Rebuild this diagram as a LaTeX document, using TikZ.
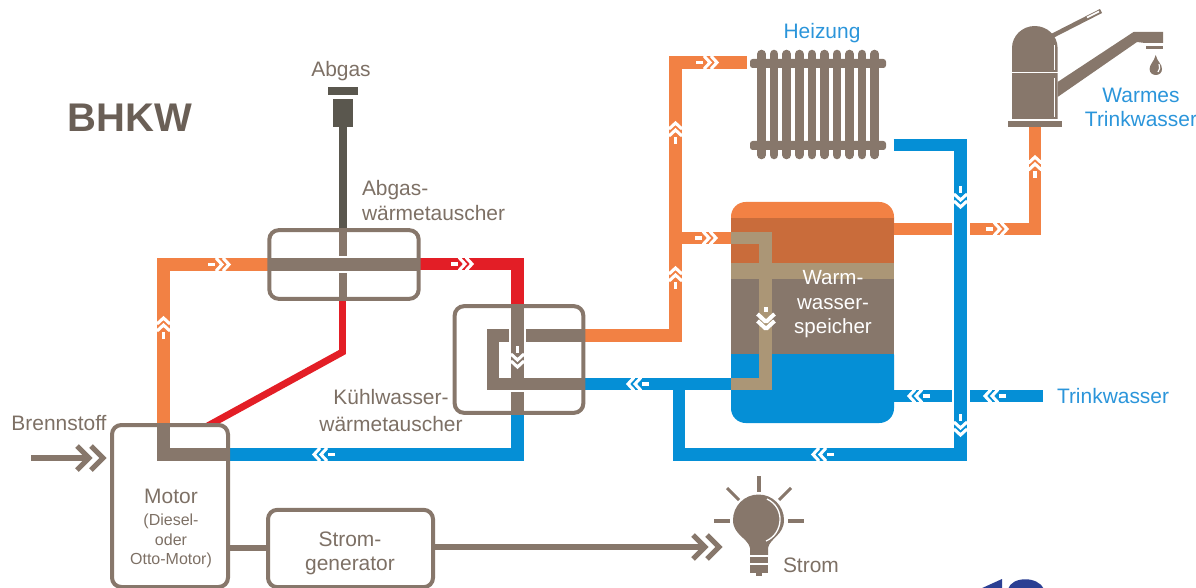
\documentclass[tikz,border=0pt]{standalone}
\usepackage{fontspec}
\setmainfont{Liberation Sans}
\definecolor{gry}{HTML}{87776B}
\definecolor{dgry}{HTML}{5A574E}
\definecolor{txtg}{HTML}{7D7065}
\definecolor{tan}{HTML}{AB9676}
\definecolor{blu}{HTML}{058FD6}
\definecolor{tblu}{HTML}{2B95DA}
\definecolor{org}{HTML}{F28144}
\definecolor{dorg}{HTML}{C96C3B}
\definecolor{rd}{HTML}{E31E26}
\definecolor{logo}{HTML}{2B3F93}
\tikzset{
  x=0.75pt,y=-0.75pt,
  pipe/.style={line width=9.5pt,draw=#1},
  pipe/.default=gry,
  halo/.style={line width=13.5pt,draw=white},
  wtbox/.style={draw=gry,line width=3pt,rounded corners=7pt,inner sep=0pt,outer sep=0pt},
  lbl/.style={text=txtg,inner sep=0pt,outer sep=0pt,anchor=base,font=\fontsize{15.7pt}{18pt}\selectfont,align=center},
  bluelbl/.style={lbl,text=tblu},
  whitelbl/.style={lbl,text=white,font=\fontsize{15.4pt}{18pt}\selectfont},
  smalllbl/.style={lbl,font=\fontsize{12pt}{14pt}\selectfont},
  feed/.style={draw=gry,line width=3.8pt},
  ray/.style={draw=gry,line width=2.3pt},
  pics/flowmark/.style={code={
    \draw[white,line width=2.6pt] (-11,0)--(-4,0);
    \draw[white,line width=2.3pt] (-3,-6.5)--(3,0)--(-3,6.5);
    \draw[white,line width=2.3pt] (4,-6.5)--(10,0)--(4,6.5);
  }},
  pics/bigmark/.style={code={
    \draw[white,line width=3pt] (-11,0)--(-6,0);
    \draw[white,line width=3pt] (-4,-8.5)--(3,-1)--(3,1)--(-4,8.5);
    \draw[white,line width=3pt] (3,-8.5)--(10,-1)--(10,1)--(3,8.5);
  }},
  pics/feedmark/.style={code={
    \draw[feed] (-26,-12)--(-14,0)--(-26,12);
    \draw[feed] (-12,-12)--(0,0)--(-12,12);
  }},
}
\begin{document}
\begin{tikzpicture}
\useasboundingbox (0,0) rectangle (1196,588);
\begin{scope}
\clip (0,0) rectangle (1196,588);
% named points
\coordinate (cRedA) at (517.5,264);
\coordinate (cOrgA) at (163.5,264.5);
\coordinate (cMotorIn) at (163.5,454.5);
\coordinate (cBlueA) at (517.5,454.5);
\coordinate (cOrgB) at (675.5,335.5);
\coordinate (cOrgC) at (675.5,62.5);
\coordinate (cOrgD) at (675.5,238);
\coordinate (cRadIn) at (747,62.5);
\coordinate (cRadOut) at (893.5,145);
\coordinate (cBlueB) at (960.5,145);
\coordinate (cBlueC) at (960.5,454.5);
\coordinate (cBlueD) at (679,454.5);
\coordinate (cBlueE) at (679,384);
\coordinate (cTapA) at (1035,229);
\coordinate (cTapB) at (1035,127);
\coordinate (cTankOut) at (894,229);
\coordinate (cTankIn) at (731,238);
\coordinate (cTankBack) at (731,384);
\coordinate (cCoilA) at (765.5,238);
\coordinate (cCoilB) at (765.5,384);
\coordinate (cCold) at (1043,396);
\coordinate (cColdT) at (894,396);
\coordinate (cFlue) at (342.5,127);
\coordinate (cDiag) at (342.5,352);
\coordinate (cDiagEnd) at (193,434);
% tank
\fill[blu,rounded corners=11pt] (731,340) rectangle (894,423);
\fill[org,rounded corners=11pt] (731,202) rectangle (894,240);
\fill[dorg] (731,218) rectangle (894,263);
\fill[tan] (731,263) rectangle (894,279);
\fill[gry] (731,279) rectangle (894,354);
% coil in tank
\draw[pipe=tan] (cTankIn)--(cCoilA)--(cCoilB)--(cTankBack);
% red
\begin{scope}
\clip (0,0) rectangle (1196,425);
\draw[pipe=rd,line width=5.2pt] (342.5,295)--(cDiag)--(cDiagEnd);
\end{scope}
% orange
\draw[pipe=org] (163.5,428)--(cOrgA)--(272,264.5);
\draw[pipe=rd] (416,264)--(cRedA)--(517.5,310);
\draw[pipe=org] (580,335.5)--(cOrgB)--(cOrgC)--(cRadIn);
\draw[pipe=org] (cOrgD)--(cTankIn);
\draw[pipe=org] (cTankOut)--(cTapA)--(cTapB);
\draw[pipe=blu] (cColdT)--(cCold);
% blue
\draw[pipe=blu] (227,454.5)--(cBlueA)--(517.5,410);
\draw[pipe=blu] (580,384)--(cTankBack);
\draw[halo] (960.5,223)--(960.5,235);
\draw[halo] (960.5,390)--(960.5,402);
\draw[pipe=blu] (cRadOut)--(cBlueB)--(cBlueC)--(cBlueD)--(cBlueE);
% gray in exchanger 1
\draw[dgry,line width=6pt] (cFlue)--(342.5,228);
\draw[gry,line width=6pt] (342.5,228)--(342.5,299);
\draw[white,line width=13pt] (268,264.5)--(420,264.5);
\draw[pipe] (268,264.5)--(420,264.5);
% gray in exchanger 2
\draw[pipe] (584,335.5)--(493,335.5)--(493,384)--(584,384);
\draw[white,line width=12.5pt] (517.5,329)--(517.5,343);
\draw[pipe] (517.5,306)--(517.5,378);
\draw[pipe] (493,384)--(584,384);
\draw[pipe] (517.5,392)--(517.5,413);
% gray in motor
\draw[pipe] (163.5,424)--(cMotorIn)--(229,454.5);
% chimney
\fill[dgry] (333,99) rectangle (353,127);
\fill[dgry] (328,87) rectangle (358,95);
% nodes
\node[wtbox,minimum width=87pt,minimum height=121.5pt] (motor) at (170,506) {};
\node[wtbox,minimum width=123.75pt,minimum height=58pt] (gen) at (350.5,548.5) {};
\node[wtbox,minimum width=112pt,minimum height=51.5pt] (agwt) at (344,264.5) {};
\node[wtbox,minimum width=96.5pt,minimum height=80pt] (kwwt) at (519,359.5) {};
% connectors
\draw[feed] (motor.east |- 0,548)--(gen.west |- 0,548);
\coordinate (cFuel) at (31,458);
\coordinate (cFuelEnd) at (90,458);
\draw[feed] (cFuel)--(cFuelEnd);
\pic at (103,458) {feedmark};
\coordinate (cElec) at (706,547);
\draw[feed] (gen.east |- 0,547)--(cElec);
\pic at (719,547) {feedmark};
% flow marks
\pic[rotate=90] at (163.5,328) {flowmark};
\pic at (219,264.5) {flowmark};
\pic at (462,264) {flowmark};
\pic[rotate=270] at (517.5,357) {flowmark};
\pic[rotate=90] at (675.5,278) {flowmark};
\pic at (706,238) {flowmark};
\pic at (707,62.5) {flowmark};
\pic[rotate=90] at (675.5,133) {flowmark};
\pic[rotate=270] at (960.5,197) {flowmark};
\pic[rotate=270] at (960.5,425) {flowmark};
\pic at (997,229) {flowmark};
\pic[rotate=90] at (1035,167) {flowmark};
\pic[rotate=270] at (766,318) {bigmark};
\pic[rotate=180] at (638,384) {flowmark};
\pic[rotate=180] at (823,454.5) {flowmark};
\pic[rotate=180] at (324,454.5) {flowmark};
\pic[rotate=180] at (919,396) {flowmark};
\pic[rotate=180] at (995,396) {flowmark};
% radiator
\fill[gry,rounded corners=2pt] (750,59) rectangle (886,68);
\fill[gry,rounded corners=2pt] (750,141) rectangle (886,150);
\foreach \i in {0,...,9}{
  \draw[gry,line width=6.4pt,line cap=round] ({761.5+12.58*\i},54)--({761.5+12.58*\i},155);
}
% tap
\fill[gry] (1012,119)--(1012,48) arc[start angle=180,end angle=360,x radius=22.8,y radius=22]--(1057.6,119)--cycle;
\fill[gry] (1008,121) rectangle (1062,127);
\draw[white,line width=0.6pt] (1012,72)--(1057.6,72);
\draw[white,line width=1.1pt] (1054.5,45)--(1054.5,70);
\draw[white,line width=1.1pt] (1054.5,78)--(1054.5,117);
\draw[gry,line width=3.4pt] (1052,36)--(1101,11);
\draw[white,line width=1.2pt] (1087,17.5)--(1099,11.5);
\fill[gry] (1057.6,82)--(1133.5,32)--(1163,32)--(1163,43)--(1145,43)--(1137,42)--(1057.6,97)--cycle;
\fill[gry] (1145.5,46) rectangle (1162.5,49.5);
\fill[gry] (1155.7,55) .. controls (1154,62) and (1149.6,64) .. (1149.6,69) .. controls (1149.6,77) and (1162,77) .. (1162,69) .. controls (1162,64) and (1157.4,62) .. (1155.7,55)--cycle;
\draw[white,line width=0.9pt] (1159,64)..controls (1160,67) and (1160,70) .. (1158,72);
% bulb
\fill[gry] (750,555)--(750,548) .. controls (748,538) and (733,535) .. (733,520) arc[start angle=180,end angle=360,radius=25.5]
  .. controls (784,535) and (770,538) .. (768,548)--(768,555)--cycle;
\fill[gry] (750,556) rectangle (768,573);
\fill[gry] (756,573) rectangle (762,576);
\draw[white,line width=0.8pt] (750,556)--(768,556) (750,564)--(768,564);
\draw[white,line width=1pt] (767,499) .. controls (786,508) and (783,534) .. (766,541);
\draw[ray] (759,476)--(759,492);
\draw[ray] (727,488)--(739,500);
\draw[ray] (791,488)--(779,500);
\draw[ray] (714,521)--(730,521);
\draw[ray] (788,521)--(804,521);
% logo fragment
\fill[logo] (980,589)--(1002,579)--(1002,589)--cycle;
\fill[logo] (1008,589) .. controls (1012,576) and (1038,576) .. (1044,589)--cycle;
% text
\node[lbl,font=\bfseries\fontsize{30pt}{34pt}\selectfont,text=txtg!85!black] (tBHKW) at (130,132) {BHKW};
\node[lbl] (tAbgas) at (341,77) {Abgas};
\node[lbl,anchor=base west] (tAW1) at (362,196) {Abgas-};
\node[lbl,anchor=base west] (tAW2) at (362,220) {wärmetauscher};
\node[lbl] (tKW1) at (391,404) {Kühlwasser-};
\node[lbl] (tKW2) at (391,431) {wärmetauscher};
\node[lbl] (tBr) at (59,430) {Brennstoff};
\node[lbl] (tMotor) at (171,503) {Motor};
\node[smalllbl] (tD) at (171,525) {(Diesel-};
\node[smalllbl] (tO) at (171,545) {oder};
\node[smalllbl] (tOt) at (171,564) {Otto-Motor)};
\node[lbl] (tS1) at (350,546) {Strom-};
\node[lbl] (tS2) at (350,570) {generator};
\node[lbl,anchor=base west] (tStrom) at (783,572) {Strom};
\node[bluelbl] (tH) at (822,39) {Heizung};
\node[bluelbl] (tW1) at (1141,103) {Warmes};
\node[bluelbl] (tW2) at (1141,127) {Trinkwasser};
\node[bluelbl,anchor=base west] (tT) at (1057,403) {Trinkwasser};
\node[whitelbl] (tWs1) at (833,284) {Warm-};
\node[whitelbl] (tWs2) at (833,309) {wasser-};
\node[whitelbl] (tWs3) at (833,333) {speicher};
\end{scope}
\end{tikzpicture}
\end{document}
